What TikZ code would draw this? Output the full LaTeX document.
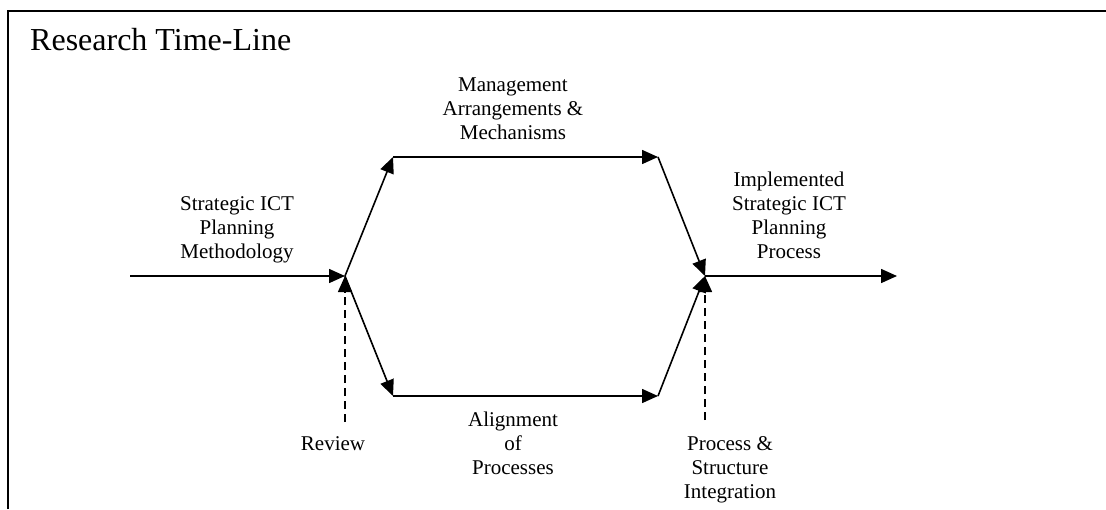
\documentclass[tikz,border=0pt]{standalone}
\usepackage{fontspec}
\setmainfont{Liberation Serif}
\usetikzlibrary{arrows.meta}
\begin{document}
\begin{tikzpicture}[x=1pt,y=-1pt,
  flow/.style={line width=1.6pt, -{Triangle[length=16pt,width=14pt]}},
  dashline/.style={line width=1.5pt, dash pattern=on 8pt off 5pt, -{Triangle[length=16pt,width=14pt]}},
  lbl/.style={font=\fontsize{21}{24}\selectfont, align=center, inner sep=0pt, anchor=north},
  ]
\useasboundingbox (0,0) rectangle (1106,509);
\draw[line width=2pt] (8,509) -- (8,11) -- (1106,11);
\node[font=\fontsize{32}{36}\selectfont, anchor=base west, inner sep=0pt] (title) at (30,50) {Research Time-Line};

\coordinate (start) at (130,276);
\coordinate (J1) at (345,276);
\coordinate (TL) at (393,157);
\coordinate (TR) at (658,157);
\coordinate (BL) at (393,396);
\coordinate (BR) at (658,396);
\coordinate (J2) at (705,276);
\coordinate (end) at (897,276);
\coordinate (rev) at (345,422);
\coordinate (psi) at (705,420);

\draw[flow] (start) -- (J1);
\draw[flow] (J1) -- (TL);
\draw[flow] (TL) -- (TR);
\draw[flow] (TR) -- (J2);
\draw[flow] (J1) -- (BL);
\draw[flow] (BL) -- (BR);
\draw[flow] (BR) -- (J2);
\draw[flow] (J2) -- (end);
\draw[dashline] (rev) -- (J1);
\draw[dashline] (psi) -- (J2);

\node[lbl] (sicpm) at (237,196) {Strategic ICT\\Planning\\Methodology};
\node[lbl] (mam) at (513,78) {Management\\Arrangements \&\\Mechanisms};
\node[lbl] (isicp) at (789,172) {Implemented\\Strategic ICT\\Planning\\Process};
\node[lbl] (aop) at (513,412) {Alignment\\of\\Processes};
\node[lbl, anchor=base] (review) at (333,450) {Review};
\node[lbl] (psint) at (730,436) {Process \&\\Structure\\Integration};
\end{tikzpicture}
\end{document}
